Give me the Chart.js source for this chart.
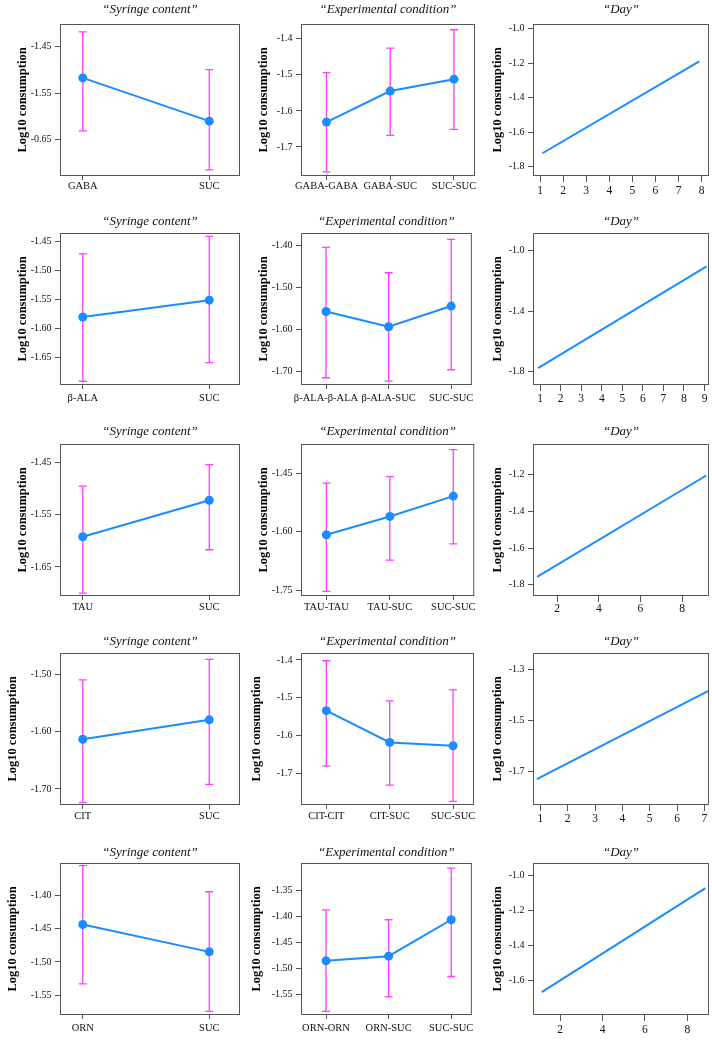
<!DOCTYPE html>
<html><head><meta charset="utf-8">
<script src="https://cdn.jsdelivr.net/npm/chart.js@4.4.1/dist/chart.umd.min.js"></script>
<style>
html,body{margin:0;padding:0;background:#fff;}
body{width:712px;height:1041px;position:relative;overflow:hidden;}
</style></head><body>
<script>
// ================= DATA =================
const titleSyringe = "\u201CSyringe content\u201D";
const titleCond = "\u201CExperimental condition\u201D";
const titleDay = "\u201CDay\u201D";
const yAxisTitle = "Log10 consumption";

const syrXRange = [-0.18, 1.243];
const condXRange = [-0.40, 2.33];

// --- GABA ---
const gabaSyrCats = ["GABA", "SUC"];
const gabaSyrMeans = [-1.517, -1.610];
const gabaSyrUpper = [-1.418, -1.499];
const gabaSyrLower = [-1.631, -1.715];
const gabaSyrYTicks = [-1.45, -1.55, -1.65];
const gabaSyrYLabels = ["-1.45", "-1.55", "-0.65"];
const gabaSyrYRange = [-1.728, -1.401];

const gabaCondCats = ["GABA-GABA", "GABA-SUC", "SUC-SUC"];
const gabaCondMeans = [-1.631, -1.545, -1.512];
const gabaCondUpper = [-1.494, -1.426, -1.375];
const gabaCondLower = [-1.769, -1.668, -1.651];
const gabaCondYTicks = [-1.4, -1.5, -1.6, -1.7];
const gabaCondYLabels = ["-1.4", "-1.5", "-1.6", "-1.7"];
const gabaCondYRange = [-1.7805, -1.359];

const gabaDayX = [1.1, 7.9];
const gabaDayY = [-1.722, -1.189];
const gabaDayXTicks = [1, 2, 3, 4, 5, 6, 7, 8];
const gabaDayXRange = [0.694, 8.32];
const gabaDayYTicks = [-1.0, -1.2, -1.4, -1.6, -1.8];
const gabaDayYLabels = ["-1.0", "-1.2", "-1.4", "-1.6", "-1.8"];
const gabaDayYRange = [-1.854, -0.972];

// --- beta-ALA ---
const balaSyrCats = ["\u03B2-ALA", "SUC"];
const balaSyrMeans = [-1.580, -1.551];
const balaSyrUpper = [-1.471, -1.441];
const balaSyrLower = [-1.691, -1.659];
const balaSyrYTicks = [-1.45, -1.50, -1.55, -1.60, -1.65];
const balaSyrYLabels = ["-1.45", "-1.50", "-1.55", "-1.60", "-1.65"];
const balaSyrYRange = [-1.6975, -1.435];

const balaCondCats = ["\u03B2-ALA-\u03B2-ALA", "\u03B2-ALA-SUC", "SUC-SUC"];
const balaCondMeans = [-1.557, -1.593, -1.544];
const balaCondUpper = [-1.405, -1.465, -1.386];
const balaCondLower = [-1.714, -1.722, -1.695];
const balaCondYTicks = [-1.40, -1.50, -1.60, -1.70];
const balaCondYLabels = ["-1.40", "-1.50", "-1.60", "-1.70"];
const balaCondYRange = [-1.7312, -1.3707];

const balaDayX = [0.9, 9.1];
const balaDayY = [-1.777, -1.104];
const balaDayXTicks = [1, 2, 3, 4, 5, 6, 7, 8, 9];
const balaDayXRange = [0.656, 9.216];
const balaDayYTicks = [-1.0, -1.4, -1.8];
const balaDayYLabels = ["-1.0", "-1.4", "-1.8"];
const balaDayYRange = [-1.889, -0.884];

// --- TAU ---
const tauSyrCats = ["TAU", "SUC"];
const tauSyrMeans = [-1.592, -1.522];
const tauSyrUpper = [-1.495, -1.454];
const tauSyrLower = [-1.700, -1.617];
const tauSyrYTicks = [-1.45, -1.55, -1.65];
const tauSyrYLabels = ["-1.45", "-1.55", "-1.65"];
const tauSyrYRange = [-1.7056, -1.4143];

const tauCondCats = ["TAU-TAU", "TAU-SUC", "SUC-SUC"];
const tauCondMeans = [-1.608, -1.561, -1.509];
const tauCondUpper = [-1.476, -1.459, -1.390];
const tauCondLower = [-1.753, -1.673, -1.631];
const tauCondYTicks = [-1.45, -1.60, -1.75];
const tauCondYLabels = ["-1.45", "-1.60", "-1.75"];
const tauCondYRange = [-1.7646, -1.3757];

const tauDayX = [1.03, 9.165];
const tauDayY = [-1.758, -1.204];
const tauDayXTicks = [2, 4, 6, 8];
const tauDayXRange = [0.835, 9.296];
const tauDayYTicks = [-1.2, -1.4, -1.6, -1.8];
const tauDayYLabels = ["-1.2", "-1.4", "-1.6", "-1.8"];
const tauDayYRange = [-1.862, -1.032];

// --- CIT ---
const citSyrCats = ["CIT", "SUC"];
const citSyrMeans = [-1.613, -1.579];
const citSyrUpper = [-1.509, -1.473];
const citSyrLower = [-1.724, -1.692];
const citSyrYTicks = [-1.50, -1.60, -1.70];
const citSyrYLabels = ["-1.50", "-1.60", "-1.70"];
const citSyrYRange = [-1.728, -1.462];

const citCondCats = ["CIT-CIT", "CIT-SUC", "SUC-SUC"];
const citCondMeans = [-1.534, -1.618, -1.627];
const citCondUpper = [-1.402, -1.508, -1.479];
const citCondLower = [-1.681, -1.731, -1.774];
const citCondYTicks = [-1.4, -1.5, -1.6, -1.7];
const citCondYLabels = ["-1.4", "-1.5", "-1.6", "-1.7"];
const citCondYRange = [-1.7836, -1.3815];

const citDayX = [0.87, 7.15];
const citDayY = [-1.729, -1.384];
const citDayXTicks = [1, 2, 3, 4, 5, 6, 7];
const citDayXRange = [0.73, 7.17];
const citDayYTicks = [-1.3, -1.5, -1.7];
const citDayYLabels = ["-1.3", "-1.5", "-1.7"];
const citDayYRange = [-1.83, -1.236];

// --- ORN ---
const ornSyrCats = ["ORN", "SUC"];
const ornSyrMeans = [-1.444, -1.485];
const ornSyrUpper = [-1.356, -1.395];
const ornSyrLower = [-1.533, -1.574];
const ornSyrYTicks = [-1.40, -1.45, -1.50, -1.55];
const ornSyrYLabels = ["-1.40", "-1.45", "-1.50", "-1.55"];
const ornSyrYRange = [-1.5795, -1.352];

const ornCondCats = ["ORN-ORN", "ORN-SUC", "SUC-SUC"];
const ornCondMeans = [-1.486, -1.477, -1.407];
const ornCondUpper = [-1.388, -1.407, -1.308];
const ornCondLower = [-1.583, -1.555, -1.516];
const ornCondYTicks = [-1.35, -1.40, -1.45, -1.50, -1.55];
const ornCondYLabels = ["-1.35", "-1.40", "-1.45", "-1.50", "-1.55"];
const ornCondYRange = [-1.590, -1.298];

const ornDayX = [1.13, 8.85];
const ornDayY = [-1.666, -1.0705];
const ornDayXTicks = [2, 4, 6, 8];
const ornDayXRange = [0.717, 9.02];
const ornDayYTicks = [-1.0, -1.2, -1.4, -1.6];
const ornDayYLabels = ["-1.0", "-1.2", "-1.4", "-1.6"];
const ornDayYRange = [-1.797, -0.927];

// ================= LAYOUT =================
const SERIF = "'Liberation Serif','DejaVu Serif',serif";
const BLUE = '#1a8cff', MAGENTA = '#ff3dff', FRAME = '#555', TXT = '#111';

const colBox = [[60, 239], [301, 474], [533, 708]];
const colCanvasLeft = [0, 240, 478];
const rowBox = [[24, 175], [233, 384], [444, 595], [653, 804], [863, 1014]];
const rowTitleY = [10, 222, 432, 642, 853];
const rowCatGap = [10.7, 14.3, 12.5, 12.7, 14.3];
const rowDayGap = [16, 15, 14.3, 15, 16];
const rowYTitleX = [[22.7, 263.3, 497.7], [22.7, 263.3, 497.7], [22.7, 263.3, 497.7], [13, 257, 498], [13, 257, 498]];

function boxPlugin() {
  return { id: 'frame', afterDraw(chart) {
    const a = chart.chartArea, c = chart.ctx;
    c.save(); c.strokeStyle = FRAME; c.lineWidth = 1;
    c.strokeRect(a.left + 0.5, a.top + 0.5, a.right - a.left - 1, a.bottom - a.top - 1);
    c.restore();
  }};
}
function errPlugin(upper, lower) {
  return { id: 'errbars', beforeDatasetsDraw(chart) {
    const c = chart.ctx, xs = chart.scales.x, ys = chart.scales.y;
    c.save(); c.strokeStyle = MAGENTA; c.lineWidth = 1.3;
    const cap = 4;
    upper.forEach((u, i) => {
      const px = xs.getPixelForValue(i);
      const pu = ys.getPixelForValue(u), pl = ys.getPixelForValue(lower[i]);
      c.beginPath();
      c.moveTo(px, pu); c.lineTo(px, pl);
      c.moveTo(px - cap, pu); c.lineTo(px + cap, pu);
      c.moveTo(px - cap, pl); c.lineTo(px + cap, pl);
      c.stroke();
    });
    c.restore();
  }};
}

function panel(row, col, p) {
  const bl = colBox[col][0], br = colBox[col][1];
  const bt = rowBox[row][0], bb = rowBox[row][1];
  const cl = colCanvasLeft[col];
  const tFont = 13, tLH = tFont * 1.2;
  const ct = Math.round(rowTitleY[row] - tLH / 2 - 3);
  const cr = br + 3, cb = bb + 36;
  const W = cr - cl, H = cb - ct;
  const canvas = document.createElement('canvas');
  canvas.width = W; canvas.height = H;
  canvas.style.cssText = `position:absolute;left:${cl}px;top:${ct}px;width:${W}px;height:${H}px`;
  document.body.appendChild(canvas);

  const tPadTop = rowTitleY[row] - ct - tLH / 2;
  const tPadBottom = bt - ct - tLH - tPadTop;
  const isDay = col === 2;
  const tl = isDay ? 6 : 4;
  const xFont = isDay ? 11.5 : 10.5;
  const gap = isDay ? rowDayGap[row] : rowCatGap[row];
  const xPad = Math.max(0, gap - tl - 1 - xFont * 1.2 / 2);
  const yFont = 10, yLH = 12.5 * 1.2;
  const yTitlePad = rowYTitleX[row][col] - cl - yLH / 2;

  const xTicks = isDay ? p.xTicks : p.cats.map((c, i) => i);
  const xLabels = isDay ? p.xTicks.map(String) : p.cats;
  const xRange = isDay ? p.xRange : (col === 0 ? syrXRange : condXRange);

  const data = isDay
    ? p.lineX.map((x, i) => ({ x: x, y: p.lineY[i] }))
    : p.means.map((m, i) => ({ x: i, y: m }));

  const plugins = [boxPlugin()];
  if (!isDay) plugins.unshift(errPlugin(p.upper, p.lower));

  new Chart(canvas, {
    type: 'line',
    data: { datasets: [{
      data: data, borderColor: BLUE, backgroundColor: BLUE, borderWidth: 2,
      pointRadius: isDay ? 0 : 4.5, pointBackgroundColor: BLUE, pointBorderWidth: 0,
      tension: 0, clip: false
    }]},
    plugins: plugins,
    options: {
      responsive: false, animation: false, events: [],
      layout: { padding: { left: 0, right: 2, top: 0, bottom: 0 }, autoPadding: false },
      plugins: {
        legend: { display: false }, tooltip: { enabled: false },
        title: { display: true, text: p.title, fullSize: false, color: TXT,
          font: { family: SERIF, size: tFont, style: 'italic', weight: 'normal', lineHeight: 1.2 },
          padding: { top: tPadTop, bottom: tPadBottom } }
      },
      scales: {
        x: {
          type: 'linear', min: xRange[0], max: xRange[1], bounds: 'data',
          afterBuildTicks: s => { s.ticks = xTicks.map(v => ({ value: v })); },
          afterFit: s => { s.height = cb - (bb + 1); },
          ticks: { callback: (v, i) => xLabels[i], maxRotation: 0, minRotation: 0, autoSkip: false,
            color: TXT, padding: xPad, font: { family: SERIF, size: xFont, lineHeight: 1.2 } },
          grid: { drawOnChartArea: false, drawTicks: true, tickLength: tl, tickColor: FRAME, color: FRAME, tickWidth: 1 },
          border: { display: false }
        },
        y: {
          type: 'linear', min: p.yRange[0], max: p.yRange[1], bounds: 'data',
          afterBuildTicks: s => { s.ticks = p.yTicks.map(v => ({ value: v })); },
          afterFit: s => { s.width = bl - cl; },
          ticks: { callback: (v, i) => p.yLabels[i], autoSkip: false, color: TXT, padding: 3.5,
            font: { family: SERIF, size: yFont } },
          grid: { drawOnChartArea: false, drawTicks: true, tickLength: 5, tickColor: FRAME, color: FRAME, tickWidth: 1 },
          border: { display: false },
          title: { display: true, text: yAxisTitle, color: '#000',
            font: { family: SERIF, size: 12.5, weight: 'bold', lineHeight: 1.2 },
            padding: { top: yTitlePad, bottom: 0 } }
        }
      }
    }
  });
}

const rowsSpec = [
  [
    { title: titleSyringe, cats: gabaSyrCats, means: gabaSyrMeans, upper: gabaSyrUpper, lower: gabaSyrLower, yTicks: gabaSyrYTicks, yLabels: gabaSyrYLabels, yRange: gabaSyrYRange },
    { title: titleCond, cats: gabaCondCats, means: gabaCondMeans, upper: gabaCondUpper, lower: gabaCondLower, yTicks: gabaCondYTicks, yLabels: gabaCondYLabels, yRange: gabaCondYRange },
    { title: titleDay, lineX: gabaDayX, lineY: gabaDayY, xTicks: gabaDayXTicks, xRange: gabaDayXRange, yTicks: gabaDayYTicks, yLabels: gabaDayYLabels, yRange: gabaDayYRange }
  ],
  [
    { title: titleSyringe, cats: balaSyrCats, means: balaSyrMeans, upper: balaSyrUpper, lower: balaSyrLower, yTicks: balaSyrYTicks, yLabels: balaSyrYLabels, yRange: balaSyrYRange },
    { title: titleCond, cats: balaCondCats, means: balaCondMeans, upper: balaCondUpper, lower: balaCondLower, yTicks: balaCondYTicks, yLabels: balaCondYLabels, yRange: balaCondYRange },
    { title: titleDay, lineX: balaDayX, lineY: balaDayY, xTicks: balaDayXTicks, xRange: balaDayXRange, yTicks: balaDayYTicks, yLabels: balaDayYLabels, yRange: balaDayYRange }
  ],
  [
    { title: titleSyringe, cats: tauSyrCats, means: tauSyrMeans, upper: tauSyrUpper, lower: tauSyrLower, yTicks: tauSyrYTicks, yLabels: tauSyrYLabels, yRange: tauSyrYRange },
    { title: titleCond, cats: tauCondCats, means: tauCondMeans, upper: tauCondUpper, lower: tauCondLower, yTicks: tauCondYTicks, yLabels: tauCondYLabels, yRange: tauCondYRange },
    { title: titleDay, lineX: tauDayX, lineY: tauDayY, xTicks: tauDayXTicks, xRange: tauDayXRange, yTicks: tauDayYTicks, yLabels: tauDayYLabels, yRange: tauDayYRange }
  ],
  [
    { title: titleSyringe, cats: citSyrCats, means: citSyrMeans, upper: citSyrUpper, lower: citSyrLower, yTicks: citSyrYTicks, yLabels: citSyrYLabels, yRange: citSyrYRange },
    { title: titleCond, cats: citCondCats, means: citCondMeans, upper: citCondUpper, lower: citCondLower, yTicks: citCondYTicks, yLabels: citCondYLabels, yRange: citCondYRange },
    { title: titleDay, lineX: citDayX, lineY: citDayY, xTicks: citDayXTicks, xRange: citDayXRange, yTicks: citDayYTicks, yLabels: citDayYLabels, yRange: citDayYRange }
  ],
  [
    { title: titleSyringe, cats: ornSyrCats, means: ornSyrMeans, upper: ornSyrUpper, lower: ornSyrLower, yTicks: ornSyrYTicks, yLabels: ornSyrYLabels, yRange: ornSyrYRange },
    { title: titleCond, cats: ornCondCats, means: ornCondMeans, upper: ornCondUpper, lower: ornCondLower, yTicks: ornCondYTicks, yLabels: ornCondYLabels, yRange: ornCondYRange },
    { title: titleDay, lineX: ornDayX, lineY: ornDayY, xTicks: ornDayXTicks, xRange: ornDayXRange, yTicks: ornDayYTicks, yLabels: ornDayYLabels, yRange: ornDayYRange }
  ]
];

rowsSpec.forEach((r, ri) => r.forEach((p, ci) => panel(ri, ci, p)));
</script>
</body></html>
